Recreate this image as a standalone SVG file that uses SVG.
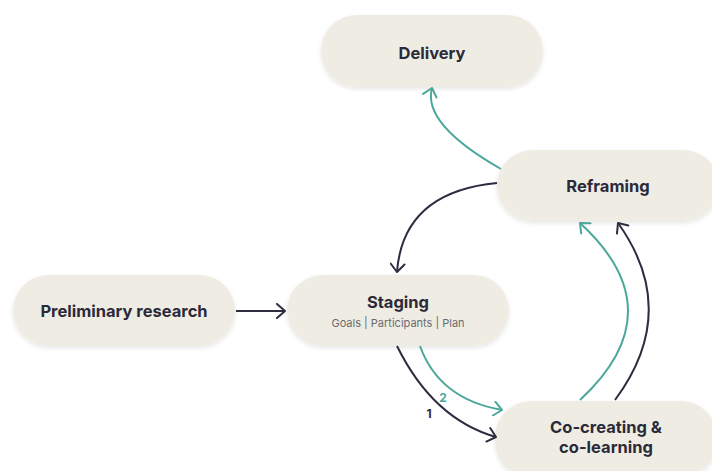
<svg xmlns="http://www.w3.org/2000/svg" width="712" height="471" viewBox="0 0 712 471">
  <style>
    .pill { fill: #EFEDE3; filter: url(#soft); }
    .title { font-family: Inter, "Liberation Sans", sans-serif; font-weight: 700; font-size: 16.5px; fill: #2B2A3A; text-anchor: middle; }
    .sub { font-family: Inter, "Liberation Sans", sans-serif; font-size: 11px; fill: #6B6A70; text-anchor: middle; }
    .dark { fill: none; stroke: #2E2C3F; stroke-width: 2; marker-end: url(#headDark); }
    .teal { fill: none; stroke: #4AA79A; stroke-width: 2; marker-end: url(#headTeal); }
    .num { font-family: Inter, "Liberation Sans", sans-serif; font-weight: 700; font-size: 12px; text-anchor: middle; }
  </style>
  <defs>
    <filter id="soft" x="-10%" y="-20%" width="120%" height="150%">
      <feDropShadow dx="0" dy="2" stdDeviation="2" flood-color="#000" flood-opacity="0.10"/>
    </filter>
    <marker id="headDark" markerUnits="userSpaceOnUse" viewBox="0 0 12 16" markerWidth="12" markerHeight="16" refX="10" refY="8" orient="auto">
      <path d="M2,1 L10,8 L2,15" fill="none" stroke="#2E2C3F" stroke-width="2" stroke-linecap="round" stroke-linejoin="round"/>
    </marker>
    <marker id="headTeal" markerUnits="userSpaceOnUse" viewBox="0 0 12 16" markerWidth="12" markerHeight="16" refX="10" refY="8" orient="auto">
      <path d="M2,1 L10,8 L2,15" fill="none" stroke="#4AA79A" stroke-width="2" stroke-linecap="round" stroke-linejoin="round"/>
    </marker>
  </defs>

  <rect width="712" height="471" fill="#FFFFFF"/>

  <g id="delivery">
    <rect class="pill" x="321" y="15" width="222" height="72" rx="36"/>
    <text class="title" x="432" y="59">Delivery</text>
  </g>

  <g id="reframing">
    <rect class="pill" x="497" y="150" width="222" height="71" rx="35.5"/>
    <text class="title" x="608" y="192">Reframing</text>
  </g>

  <g id="preliminary-research">
    <rect class="pill" x="13" y="275" width="222" height="71" rx="35.5"/>
    <text class="title" x="124" y="317">Preliminary research</text>
  </g>

  <g id="staging">
    <rect class="pill" x="287" y="275" width="222" height="71" rx="35.5"/>
    <text class="title" x="398" y="308">Staging</text>
    <text class="sub" x="398" y="327">Goals | Participants | Plan</text>
  </g>

  <g id="co-creating">
    <rect class="pill" x="495" y="401" width="222" height="76" rx="36"/>
    <text class="title" x="606" y="433">Co-creating &amp;</text>
    <text class="title" x="606" y="453">co-learning</text>
  </g>

  <g id="connectors">
    <path class="dark" d="M236,311 L285,311"/>
    <path class="teal" d="M501,169 Q422,124 432,88"/>
    <path class="dark" d="M497,183 Q403,192 397,272"/>
    <path class="dark" d="M397,346 Q433,419 496,437"/>
    <path class="teal" d="M420,346 Q439,399 502,410"/>
    <path class="teal" d="M580,400 Q676,311 580,223"/>
    <path class="dark" d="M615,400 Q681,311 618,223"/>
    <text class="num" x="429" y="418" fill="#2E2C3F">1</text>
    <text class="num" x="443" y="402" fill="#4AA79A">2</text>
  </g>
</svg>
